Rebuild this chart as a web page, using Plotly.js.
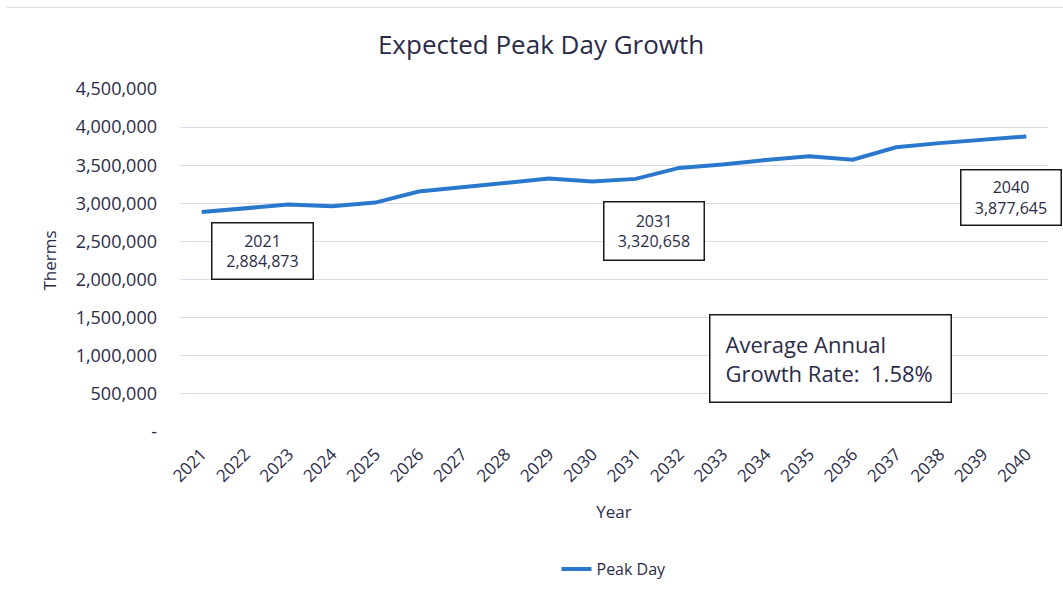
<!DOCTYPE html>
<html>
<head>
<meta charset="utf-8">
<script src="https://cdn.plot.ly/plotly-3.0.1.min.js"></script>
<style>html,body{margin:0;padding:0;background:#fff;}#chart{width:1063px;height:600px;}</style>
</head>
<body>
<div id="chart"></div>
<script>
const years = ['2021','2022','2023','2024','2025','2026','2027','2028','2029','2030','2031','2032','2033','2034','2035','2036','2037','2038','2039','2040'];
const peakDay = [2884873, 2928000, 2984000, 2962000, 3010000, 3154000, 3210000, 3270000, 3325000, 3285000, 3320658, 3465000, 3508000, 3569000, 3617000, 3573000, 3735000, 3790000, 3830000, 3877645];
const yTickVals = [0, 500000, 1000000, 1500000, 2000000, 2500000, 3000000, 3500000, 4000000, 4500000];
const yTickText = ['-', '500,000', '1,000,000', '1,500,000', '2,000,000', '2,500,000', '3,000,000', '3,500,000', '4,000,000', '4,500,000'];
const labelYears = ['2021', '2031', '2040'];
const growthText = ['Average Annual', 'Growth Rate:  1.58%'];

const fmt = v => v.toLocaleString('en-US');
const txt = '#2b2b48';
const font = '"Open Sans", "Noto Sans", sans-serif';

const boxPos = {
  '2021': {x: 0.0956, y: 0.528, w: 100, h: 55},
  '2031': {x: 0.5461, y: 0.587, w: 99, h: 57},
  '2040': {x: 0.9574, y: 0.685, w: 99, h: 54}
};

const annotations = labelYears.map(yr => {
  const i = years.indexOf(yr);
  const p = boxPos[yr];
  return {
    xref: 'paper', yref: 'paper', x: p.x, y: p.y,
    xanchor: 'center', yanchor: 'middle',
    text: yr + '<br>' + fmt(peakDay[i]),
    showarrow: false, align: 'center',
    font: {family: font, size: 16, color: txt},
    bgcolor: '#ffffff', bordercolor: '#1a1a1a', borderwidth: 1.5, borderpad: 0,
    width: p.w, height: p.h
  };
});
annotations.push({
  xref: 'paper', yref: 'paper', x: 0.749, y: 0.213,
  xanchor: 'center', yanchor: 'middle',
  text: growthText.join('<br>'),
  showarrow: false, align: 'left',
  font: {family: font, size: 22, color: txt},
  bgcolor: '#ffffff', bordercolor: '#1a1a1a', borderwidth: 1.5, borderpad: 15,
  width: 210, height: 56
});

const trace = {
  type: 'scatter', mode: 'lines', name: 'Peak Day',
  x: years, y: peakDay,
  line: {color: '#2a78cc', width: 4, shape: 'linear'}
};

const layout = {
  width: 1063, height: 600,
  margin: {l: 180, r: 15, t: 89, b: 168},
  paper_bgcolor: '#ffffff', plot_bgcolor: '#ffffff',
  font: {family: font, color: txt},
  title: {text: 'Expected Peak Day Growth', font: {family: font, size: 26, color: txt}, x: 0.509, xanchor: 'center', y: 0.926, yanchor: 'middle'},
  xaxis: {
    type: 'category', range: [-0.5, 19.5],
    tickangle: -45, tickfont: {family: font, size: 17, color: txt},
    showgrid: false, showline: false, zeroline: false, ticks: '',
    ticklabelstandoff: 8,
    title: {text: 'Year', font: {family: font, size: 17, color: txt}, standoff: 20},
    fixedrange: true
  },
  yaxis: {
    range: [0, 4500000], tickvals: yTickVals, ticktext: yTickText,
    tickfont: {family: font, size: 18, color: txt},
    gridcolor: '#dcdce8', gridwidth: 1, zeroline: false, showline: false, ticks: '',
    ticklabelstandoff: 22,
    title: {text: 'Therms', font: {family: font, size: 17, color: txt}, standoff: 14},
    fixedrange: true
  },
  showlegend: true,
  legend: {orientation: 'h', x: 0.5, xanchor: 'center', y: -0.4, yanchor: 'middle', font: {family: font, size: 16, color: txt}},
  annotations: annotations,
  shapes: [{type: 'line', xref: 'paper', yref: 'paper', x0: -0.2, x1: 1.02, y0: 1.238, y1: 1.238, line: {color: '#dddddd', width: 1}}]
};

Plotly.newPlot('chart', [trace], layout, {displayModeBar: false, staticPlot: true});
</script>
</body>
</html>
